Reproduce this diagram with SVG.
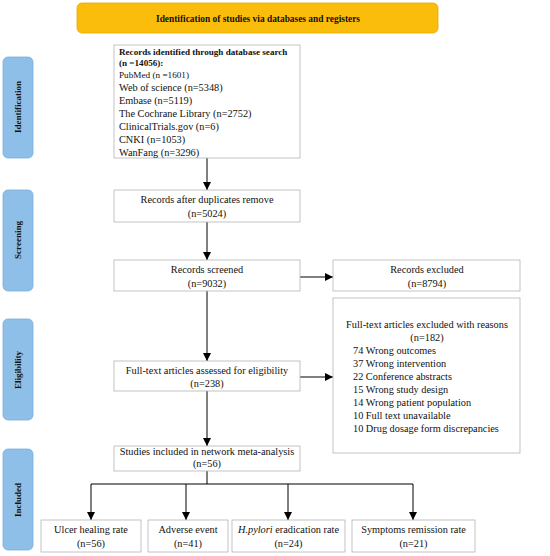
<svg xmlns="http://www.w3.org/2000/svg" width="550" height="556" viewBox="0 0 550 556">
<defs>
<style>
.box{fill:#fff;stroke:#b4b4b4;stroke-width:0.8}
.side{fill:#8dbfe8;stroke:#7aaedb;stroke-width:0.8}
.t{font-family:"Liberation Serif","Times New Roman",serif;font-size:10.3px;fill:#111}
.c{text-anchor:middle}
.b{font-weight:bold}
.sl{font-family:"Liberation Serif","Times New Roman",serif;font-size:9px;font-weight:bold;fill:#111;text-anchor:middle}
.ln{stroke:#000;stroke-width:1;fill:none}
</style>
<marker id="ah" viewBox="0 0 10 10" refX="10" refY="5" markerWidth="8" markerHeight="8" markerUnits="userSpaceOnUse" orient="auto">
<path d="M0,0 L10,5 L0,10 z" fill="#000"/>
</marker>
</defs>
<rect width="550" height="556" fill="#fff"/>

<g id="header">
<rect x="77" y="3" width="361" height="30" rx="5" fill="#fbbd0b" stroke="#e8a800" stroke-width="0.8"/>
<text class="t c b" x="258" y="22" style="font-size:9.4px">Identification of studies via databases and registers</text>
</g>

<g id="side-identification">
<rect class="side" x="3" y="57" width="30" height="101" rx="5"/>
<text class="sl" transform="translate(21,107) rotate(-90)">Identification</text>
</g>
<g id="side-screening">
<rect class="side" x="3" y="190" width="30" height="101" rx="5"/>
<text class="sl" transform="translate(21,240) rotate(-90)">Screening</text>
</g>
<g id="side-eligibility">
<rect class="side" x="3" y="319" width="30" height="101" rx="5"/>
<text class="sl" transform="translate(21,370) rotate(-90)">Eligibility</text>
</g>
<g id="side-included">
<rect class="side" x="3" y="449" width="30" height="101" rx="5"/>
<text class="sl" transform="translate(21,500) rotate(-90)">Included</text>
</g>

<g id="connectors">
<line class="ln" x1="207" y1="158" x2="207" y2="190" marker-end="url(#ah)"/>
<line class="ln" x1="207" y1="222" x2="207" y2="260" marker-end="url(#ah)"/>
<line class="ln" x1="300" y1="277" x2="333" y2="277" marker-end="url(#ah)"/>
<line class="ln" x1="207" y1="291" x2="207" y2="361" marker-end="url(#ah)"/>
<line class="ln" x1="300" y1="377" x2="333" y2="377" marker-end="url(#ah)"/>
<line class="ln" x1="207" y1="391" x2="207" y2="446" marker-end="url(#ah)"/>
<line class="ln" x1="207" y1="471" x2="207" y2="484"/>
<line class="ln" x1="91" y1="484" x2="413" y2="484"/>
<line class="ln" x1="91" y1="484" x2="91" y2="520" marker-end="url(#ah)"/>
<line class="ln" x1="186" y1="484" x2="186" y2="520" marker-end="url(#ah)"/>
<line class="ln" x1="288" y1="484" x2="288" y2="520" marker-end="url(#ah)"/>
<line class="ln" x1="413" y1="484" x2="413" y2="520" marker-end="url(#ah)"/>
</g>

<g id="records-identified">
<rect class="box" x="114" y="45" width="186" height="113"/>
<text class="t b" x="119" y="55" style="font-size:9.1px">Records identified through database search</text>
<text class="t b" x="119" y="66" style="font-size:9.1px">(n =14056):</text>
<text class="t" x="119" y="77.5" style="font-size:9.2px">PubMed (n =1601)</text>
<text class="t" x="119" y="90.5">Web of science (n=5348)</text>
<text class="t" x="119" y="103.5">Embase (n=5119)</text>
<text class="t" x="119" y="116.5">The Cochrane Library (n=2752)</text>
<text class="t" x="119" y="129.5">ClinicalTrials.gov (n=6)</text>
<text class="t" x="119" y="142.5">CNKI (n=1053)</text>
<text class="t" x="119" y="155.5">WanFang (n=3296)</text>
</g>

<g id="records-after-duplicates">
<rect class="box" x="114" y="190" width="186" height="32"/>
<text class="t c" x="207" y="202.5">Records after duplicates remove</text>
<text class="t c" x="207" y="216.5">(n=5024)</text>
</g>

<g id="records-screened">
<rect class="box" x="114" y="260" width="186" height="31"/>
<text class="t c" x="207" y="273">Records screened</text>
<text class="t c" x="207" y="287">(n=9032)</text>
</g>

<g id="records-excluded">
<rect class="box" x="333" y="260" width="187" height="31"/>
<text class="t c" x="427" y="273">Records excluded</text>
<text class="t c" x="427" y="287">(n=8794)</text>
</g>

<g id="fulltext-excluded">
<rect class="box" x="333" y="298" width="187" height="155"/>
<text class="t c" x="427" y="327.5">Full-text articles excluded with reasons</text>
<text class="t c" x="427" y="340.5">(n=182)</text>
<text class="t" x="353" y="354">74 Wrong outcomes</text>
<text class="t" x="353" y="367">37 Wrong intervention</text>
<text class="t" x="353" y="380">22 Conference abstracts</text>
<text class="t" x="353" y="393">15 Wrong study design</text>
<text class="t" x="353" y="406">14 Wrong patient population</text>
<text class="t" x="353" y="419">10 Full text unavailable</text>
<text class="t" x="353" y="432">10 Drug dosage form discrepancies</text>
</g>

<g id="fulltext-assessed">
<rect class="box" x="114" y="361" width="186" height="30"/>
<text class="t c" x="207" y="373.5">Full-text articles assessed for eligibility</text>
<text class="t c" x="207" y="387">(n=238)</text>
</g>

<g id="studies-included">
<rect class="box" x="114" y="446" width="186" height="25"/>
<text class="t c" x="207" y="454.5">Studies included in network meta-analysis</text>
<text class="t c" x="207" y="467">(n=56)</text>
</g>

<g id="ulcer-healing">
<rect class="box" x="41" y="520" width="100" height="32"/>
<text class="t c" x="91" y="532.5">Ulcer healing rate</text>
<text class="t c" x="91" y="546.5">(n=56)</text>
</g>
<g id="adverse-event">
<rect class="box" x="148" y="520" width="80" height="32"/>
<text class="t c" x="188" y="532.5">Adverse event</text>
<text class="t c" x="188" y="546.5">(n=41)</text>
</g>
<g id="hpylori">
<rect class="box" x="232" y="520" width="113" height="32"/>
<text class="t c" x="288.5" y="532.5"><tspan font-style="italic">H.pylori</tspan> eradication rate</text>
<text class="t c" x="288.5" y="546.5">(n=24)</text>
</g>
<g id="symptoms-remission">
<rect class="box" x="352" y="520" width="123" height="32"/>
<text class="t c" x="413.5" y="532.5">Symptoms remission rate</text>
<text class="t c" x="413.5" y="546.5">(n=21)</text>
</g>
</svg>
